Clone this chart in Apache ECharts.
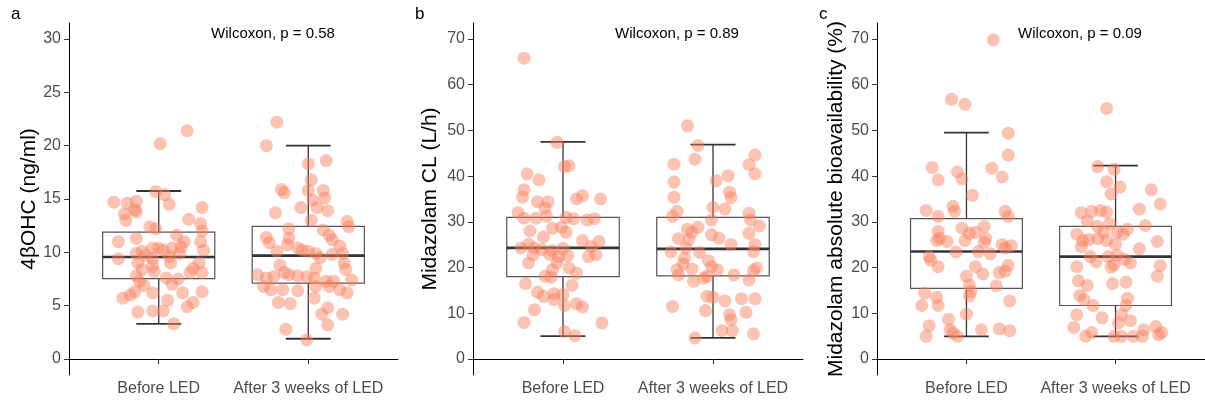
<!DOCTYPE html>
<html><head><meta charset="utf-8">
<script src="https://cdn.jsdelivr.net/npm/echarts@6/dist/echarts.min.js"></script>
<style>html,body{margin:0;padding:0;background:#fff}#c{width:1205px;height:403px}</style>
</head><body><div id="c"></div>
<script>
// ---------- data ----------
const categories = ["Before LED", "After 3 weeks of LED"];
const panelLetters = ["a", "b", "c"];
const yTitles = ["4βOHC (ng/ml)", "Midazolam CL (L/h)", "Midazolam absolute bioavailability (%)"];
const pTexts = ["Wilcoxon, p = 0.58", "Wilcoxon, p = 0.89", "Wilcoxon, p = 0.09"];
const yTicksA = [0, 5, 10, 15, 20, 25, 30];
const yTicksBC = [0, 10, 20, 30, 40, 50, 60, 70];

// box stats: [low whisker, Q1, median, Q3, high whisker]
const boxA = [[3.3, 7.53, 9.56, 11.9, 15.75], [1.9, 7.12, 9.69, 12.43, 20.0]];
const boxB = [[5.0, 18.0, 24.3, 31.0, 47.5], [4.6, 18.2, 24.1, 31.0, 46.9]];
const boxC = [[4.95, 15.45, 23.5, 30.7, 49.5], [4.95, 11.7, 22.4, 29.0, 42.3]];

// points: [jitter offset from category centre, value]
const ptsA_before = [[0.19,21.4],[0.01,20.2],[-0.30,14.7],[-0.21,14.6],[-0.15,14.8],[-0.16,14.0],[-0.15,13.8],[-0.23,13.6],[-0.22,13.0],[-0.02,15.7],[0.04,15.4],[0.07,14.5],[0.29,14.2],[0.20,13.1],[0.28,12.7],[-0.06,12.4],[-0.02,12.2],[0.29,12.0],[0.12,11.6],[-0.27,11.0],[-0.15,11.3],[0.17,11.0],[0.28,11.0],[-0.04,10.4],[0.00,10.4],[0.09,10.4],[0.15,10.5],[0.03,10.2],[-0.15,9.9],[-0.11,10.1],[0.30,10.2],[-0.27,9.4],[-0.09,9.7],[-0.04,9.4],[0.08,9.0],[0.27,9.0],[-0.14,9.0],[-0.04,8.7],[-0.11,8.4],[0.23,8.5],[-0.03,8.2],[0.29,8.1],[0.21,8.1],[-0.15,7.8],[0.13,7.5],[0.05,7.6],[-0.13,7.3],[0.09,7.0],[-0.10,6.9],[-0.16,6.3],[-0.19,6.0],[-0.04,6.2],[0.16,6.2],[0.29,6.3],[-0.24,5.7],[0.06,5.5],[0.23,5.3],[0.19,4.9],[-0.14,4.4],[-0.04,4.5],[0.03,4.5],[0.10,3.3],[0.14,9.9],[0.07,9.6]];
const ptsA_after = [[-0.21,22.2],[-0.28,20.0],[0.00,18.3],[0.12,18.6],[0.02,16.8],[-0.18,15.9],[-0.16,15.6],[0.00,15.8],[0.10,15.8],[0.03,14.9],[0.11,15.1],[-0.22,13.7],[-0.05,14.2],[0.06,14.2],[0.13,13.9],[0.02,13.0],[0.26,12.9],[0.27,12.4],[-0.13,12.2],[0.10,12.1],[0.14,11.6],[0.16,11.2],[-0.28,11.4],[-0.26,10.9],[-0.13,11.3],[-0.14,10.7],[-0.21,10.1],[-0.07,10.4],[-0.04,10.2],[0.00,10.1],[0.05,9.9],[0.21,10.6],[0.23,9.9],[0.08,9.5],[0.16,9.8],[0.24,9.0],[0.25,8.4],[-0.19,8.8],[0.05,8.5],[-0.34,7.9],[-0.28,7.6],[-0.23,7.7],[-0.16,8.1],[-0.13,7.9],[-0.07,7.8],[-0.01,7.7],[0.04,7.6],[0.12,7.3],[0.17,7.3],[0.29,7.4],[-0.30,6.8],[-0.25,6.5],[-0.17,6.5],[-0.07,6.4],[0.05,6.8],[0.14,6.8],[0.21,6.5],[0.26,6.2],[0.04,5.7],[-0.20,5.3],[-0.12,5.2],[0.13,4.8],[0.09,4.2],[0.23,4.2],[0.13,3.2],[-0.15,2.8],[-0.01,1.8]];
const ptsB_before = [[-0.26,65.8],[-0.04,47.4],[0.01,42.1],[0.04,42.3],[-0.24,40.5],[-0.16,39.2],[-0.26,37.0],[-0.27,35.4],[-0.17,34.4],[-0.10,34.4],[-0.12,33.0],[0.13,35.7],[0.09,35.0],[0.25,35.0],[-0.30,32.0],[-0.26,30.8],[-0.18,30.8],[-0.11,31.2],[0.02,31.0],[0.07,30.7],[0.16,30.4],[0.21,30.7],[-0.07,28.6],[-0.01,28.8],[0.02,27.7],[-0.22,28.0],[-0.13,26.7],[0.13,25.9],[0.24,25.7],[-0.23,25.1],[-0.28,24.3],[-0.19,24.3],[-0.14,23.9],[-0.07,23.7],[0.00,24.2],[0.19,24.6],[-0.20,22.8],[-0.09,22.9],[-0.03,22.4],[0.03,22.6],[0.17,22.4],[0.22,22.8],[-0.23,21.0],[-0.04,21.0],[-0.07,19.5],[0.04,19.9],[0.09,18.8],[-0.12,18.1],[-0.08,17.9],[-0.25,16.5],[0.06,16.1],[-0.17,14.6],[-0.13,13.7],[-0.06,14.3],[0.00,14.1],[-0.06,13.0],[0.09,12.1],[0.01,11.7],[0.13,11.4],[-0.19,10.8],[-0.26,8.0],[0.26,7.9],[0.01,6.0],[0.08,5.1]];
const ptsB_after = [[-0.17,51.0],[-0.10,46.7],[-0.12,43.7],[0.28,44.6],[0.24,42.5],[0.28,40.5],[-0.26,42.6],[-0.26,38.7],[-0.26,35.4],[0.02,39.0],[0.10,40.1],[0.11,36.5],[0.12,35.3],[-0.24,32.3],[-0.27,31.2],[0.00,33.2],[0.08,32.8],[-0.01,30.4],[0.24,31.9],[0.25,30.4],[0.31,29.1],[0.24,27.5],[-0.17,28.4],[-0.10,28.8],[-0.14,27.7],[-0.01,27.2],[0.04,26.4],[-0.23,26.3],[-0.16,26.2],[0.12,25.0],[0.28,25.0],[-0.18,24.3],[-0.28,23.4],[-0.09,23.3],[0.27,23.5],[-0.19,22.1],[-0.03,21.5],[-0.20,20.8],[-0.01,20.2],[0.29,19.9],[0.27,19.3],[-0.24,19.5],[-0.14,19.7],[-0.23,18.4],[-0.04,18.1],[0.14,18.4],[-0.13,17.0],[-0.06,17.7],[0.24,17.3],[-0.04,13.7],[0.00,13.5],[0.08,12.7],[0.19,13.2],[0.28,13.2],[-0.27,11.5],[-0.05,10.6],[0.11,9.7],[0.12,8.6],[0.22,10.2],[0.06,6.2],[0.13,6.2],[0.27,5.5],[-0.12,4.6],[0.03,19.5]];
const ptsC_before = [[0.18,69.8],[-0.10,56.8],[-0.01,55.7],[0.28,49.4],[0.28,44.6],[-0.23,41.9],[-0.06,40.9],[0.17,41.7],[0.24,39.8],[-0.19,39.2],[-0.03,39.4],[0.04,35.8],[-0.27,32.5],[-0.09,33.4],[-0.08,32.3],[-0.19,31.2],[0.26,32.3],[0.28,31.2],[-0.03,28.6],[0.12,29.0],[-0.19,27.9],[0.02,27.5],[0.06,27.7],[-0.18,26.4],[-0.20,25.9],[-0.13,25.7],[-0.01,25.9],[0.13,26.4],[0.12,25.5],[0.24,25.0],[0.30,24.8],[0.26,24.3],[-0.07,23.4],[0.08,23.5],[0.16,23.0],[-0.25,22.4],[-0.24,21.6],[-0.19,20.2],[0.06,20.2],[0.28,20.5],[0.22,18.9],[0.11,18.6],[0.00,18.1],[0.26,19.2],[0.02,16.2],[0.20,16.0],[0.03,14.8],[-0.28,14.4],[-0.20,13.5],[0.02,13.8],[0.29,12.7],[-0.30,11.7],[-0.19,11.7],[0.00,9.8],[-0.12,8.7],[-0.25,7.3],[-0.11,6.4],[-0.09,5.7],[0.10,6.4],[0.22,6.6],[0.29,6.2],[-0.27,4.95],[-0.06,4.95]];
const ptsC_after = [[-0.06,54.8],[-0.12,42.1],[-0.01,41.5],[-0.06,38.8],[0.03,37.6],[-0.03,36.1],[0.24,37.0],[0.30,33.9],[0.16,32.8],[-0.23,32.0],[-0.16,32.3],[-0.10,32.5],[-0.06,32.1],[-0.19,30.2],[0.20,29.2],[-0.12,29.0],[-0.04,29.6],[0.08,28.4],[-0.26,27.3],[-0.08,27.7],[0.01,27.7],[0.05,27.3],[-0.22,25.9],[-0.18,26.1],[-0.12,26.3],[-0.06,25.9],[0.00,25.1],[0.28,25.7],[-0.23,24.6],[0.16,24.1],[-0.17,22.4],[-0.13,21.3],[-0.05,22.4],[0.01,22.7],[0.06,21.8],[0.10,21.0],[-0.03,20.1],[-0.01,20.6],[-0.26,20.2],[0.30,20.4],[0.28,18.1],[-0.25,17.1],[-0.19,16.1],[-0.02,16.5],[0.07,16.8],[-0.24,13.9],[-0.21,13.0],[0.08,13.3],[-0.15,11.7],[0.07,11.7],[-0.26,9.7],[-0.09,9.0],[0.04,9.7],[0.10,8.4],[0.02,7.9],[-0.28,6.9],[0.27,7.1],[0.19,6.4],[-0.16,5.8],[-0.20,4.95],[-0.01,4.95],[0.04,4.95],[0.12,4.95],[0.18,4.95],[0.29,5.3],[0.31,5.8]];

// ---------- chart ----------
const panels = [
  {box: boxA, pts: [ptsA_before, ptsA_after], ticks: yTicksA, ymin: -1.5, ymax: 31.5, left: 69, width: 329, nameGap: 29},
  {box: boxB, pts: [ptsB_before, ptsB_after], ticks: yTicksBC, ymin: -3.5, ymax: 73.5, left: 473, width: 330, nameGap: 32},
  {box: boxC, pts: [ptsC_before, ptsC_after], ticks: yTicksBC, ymin: -3.5, ymax: 73.5, left: 877, width: 328, nameGap: 30}
];
const FONT = '"Liberation Sans", Arial, sans-serif';
const grids = [], xAxes = [], yAxes = [], series = [], graphics = [];
const letterX = [11, 415, 819];
const pX = [273, 677, 1080];

panels.forEach((p, i) => {
  grids.push({left: p.left, top: 23, width: p.width, height: 352});
  xAxes.push({
    type: 'value', gridIndex: i, min: 0.4, max: 2.6,
    splitLine: {show: false},
    axisLine: {show: true, lineStyle: {color: '#000', width: 1}},
    axisTick: {show: true, length: 5, lineStyle: {color: '#333'}, customValues: [1, 2]},
    axisLabel: {customValues: [1, 2], formatter: v => categories[Math.round(v) - 1] || '',
      color: '#4D4D4D', fontSize: 16, fontFamily: FONT, margin: 6}
  });
  yAxes.push({
    type: 'value', gridIndex: i, min: p.ymin, max: p.ymax,
    splitLine: {show: false},
    axisLine: {show: true, lineStyle: {color: '#000', width: 1}},
    axisTick: {show: true, length: 5, lineStyle: {color: '#333'}, customValues: p.ticks},
    axisLabel: {customValues: p.ticks, color: '#4D4D4D', fontSize: 16, fontFamily: FONT, margin: 8},
    name: yTitles[i], nameLocation: 'middle', nameGap: p.nameGap,
    nameTextStyle: {color: '#000', fontSize: 21, fontFamily: FONT}
  });
  // boxes
  series.push({
    type: 'custom', xAxisIndex: i, yAxisIndex: i, z: 2,
    data: p.box.map((b, k) => [k + 1].concat(b)),
    renderItem: (params, api) => {
      const x = api.value(0), lo = api.value(1), q1 = api.value(2), med = api.value(3), q3 = api.value(4), hi = api.value(5);
      const bw = 0.375, cw = 0.15;
      const tl = api.coord([x - bw, q3]), br = api.coord([x + bw, q1]);
      const mL = api.coord([x - bw, med]), mR = api.coord([x + bw, med]);
      const top = api.coord([x, hi]), q3c = api.coord([x, q3]), q1c = api.coord([x, q1]), bot = api.coord([x, lo]);
      const cl = api.coord([x - cw, hi]), cr = api.coord([x + cw, hi]);
      const dl = api.coord([x - cw, lo]), dr = api.coord([x + cw, lo]);
      const dark = '#333';
      return {type: 'group', children: [
        {type: 'line', shape: {x1: top[0], y1: top[1], x2: q3c[0], y2: q3c[1]}, style: {stroke: dark, lineWidth: 1.3}},
        {type: 'line', shape: {x1: q1c[0], y1: q1c[1], x2: bot[0], y2: bot[1]}, style: {stroke: dark, lineWidth: 1.3}},
        {type: 'line', shape: {x1: cl[0], y1: cl[1], x2: cr[0], y2: cr[1]}, style: {stroke: dark, lineWidth: 1.8}},
        {type: 'line', shape: {x1: dl[0], y1: dl[1], x2: dr[0], y2: dr[1]}, style: {stroke: dark, lineWidth: 1.8}},
        {type: 'rect', shape: {x: tl[0], y: tl[1], width: br[0] - tl[0], height: br[1] - tl[1]}, style: {fill: 'none', stroke: '#555', lineWidth: 1.2}},
        {type: 'line', shape: {x1: mL[0], y1: mL[1], x2: mR[0], y2: mR[1]}, style: {stroke: dark, lineWidth: 2.6}}
      ]};
    }
  });
  // points
  p.pts.forEach((arr, k) => {
    series.push({
      type: 'scatter', xAxisIndex: i, yAxisIndex: i, z: 3,
      symbolSize: 13, silent: true,
      itemStyle: {color: 'rgba(249,128,94,0.6)'},
      data: arr.map(d => [k + 1 + d[0], d[1]])
    });
  });
  graphics.push({type: 'text', left: letterX[i], top: 6,
    style: {text: panelLetters[i], fontSize: 17, fontFamily: FONT, fill: '#000'}});
  graphics.push({type: 'text', x: pX[i], y: 34,
    style: {text: pTexts[i], fontSize: 15, fontFamily: FONT, fill: '#000', textAlign: 'center', textVerticalAlign: 'middle'}});
});

const chart = echarts.init(document.getElementById('c'), null, {renderer: 'canvas'});
chart.setOption({
  animation: false,
  backgroundColor: '#fff',
  grid: grids, xAxis: xAxes, yAxis: yAxes, series: series, graphic: graphics
});
</script></body></html>
